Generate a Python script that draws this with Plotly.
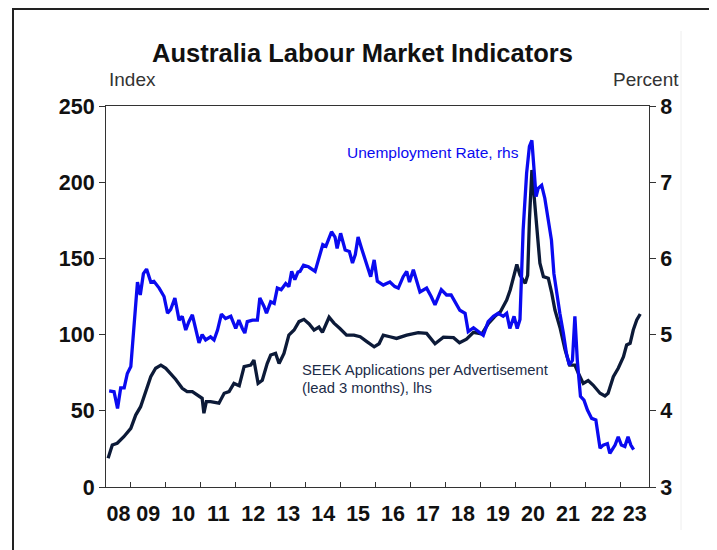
import plotly.graph_objects as go

# ---------------- data ----------------
title_text = "Australia Labour Market Indicators"
year_labels = ["08", "09", "10", "11", "12", "13", "14", "15", "16", "17", "18", "19", "20", "21", "22", "23"]
left_ticks = [0, 50, 100, 150, 200, 250]
right_ticks = [3, 4, 5, 6, 7, 8]

# SEEK applications per advertisement (lead 3 months), index, lhs
seek_x = [2008.35, 2008.47, 2008.61, 2008.8, 2009.0, 2009.14, 2009.28, 2009.43, 2009.57, 2009.71,
          2009.86, 2010.0, 2010.14, 2010.28, 2010.47, 2010.61, 2010.76, 2010.9, 2011.04, 2011.09,
          2011.16, 2011.28, 2011.52, 2011.67, 2011.81, 2011.95, 2012.1, 2012.24, 2012.43, 2012.52,
          2012.64, 2012.76, 2012.9, 2013.0, 2013.14, 2013.24, 2013.38, 2013.52, 2013.67, 2013.81,
          2013.95, 2014.1, 2014.24, 2014.38, 2014.48, 2014.67, 2014.81, 2014.98, 2015.17, 2015.38,
          2015.56, 2015.75, 2015.96, 2016.1, 2016.22, 2016.41, 2016.6, 2016.89, 2017.22, 2017.46,
          2017.7, 2017.94, 2018.23, 2018.4, 2018.6, 2018.8, 2019.04, 2019.23, 2019.4, 2019.57,
          2019.75, 2019.85, 2019.93, 2020.04, 2020.13, 2020.28, 2020.35, 2020.4, 2020.47, 2020.53,
          2020.61, 2020.7, 2020.8, 2020.94, 2021.04, 2021.13, 2021.28, 2021.42, 2021.55, 2021.7,
          2021.8, 2021.94, 2022.08, 2022.22, 2022.42, 2022.56, 2022.65, 2022.8, 2022.94, 2023.09,
          2023.18, 2023.28, 2023.37, 2023.47, 2023.57]
seek_y = [18.8, 27.6, 28.7, 33, 38.5, 47.2, 52.7, 63.6, 72.4, 77.9,
          80, 77.9, 74.6, 70.7, 64.8, 62.6, 62.6, 60.4, 58.2, 48.4,
          56, 56, 55, 61.5, 62.6, 68, 66.5, 79, 80, 83.3,
          68, 70, 81, 86.6, 87.7, 81, 87.7, 99.7, 103, 108.5,
          110, 107, 103, 105, 101.5, 111.4, 107.5, 104, 99.7, 99.7,
          98.6, 95.4, 92, 94, 99.7, 98.6, 97.5, 99.7, 101.3, 100.8,
          94, 98.3, 98, 94.7, 97, 101.5, 100.5, 107.4, 111.7, 115,
          122.7, 129.3, 135.8, 146, 139, 133.6, 139, 175, 208, 190.5,
          170.8, 146.8, 138, 137, 127, 116.1, 104.1, 90, 80, 80,
          74.6, 68, 69.8, 66.9, 61.5, 59.7, 61.5, 72.4, 77.9, 85.5,
          93.2, 94.3, 103, 109.6, 113.5]

# Unemployment rate, percent, rhs
unemp_x = [2008.38, 2008.52, 2008.62, 2008.71, 2008.81, 2008.9, 2009.0, 2009.09, 2009.19, 2009.27,
           2009.36, 2009.45, 2009.57, 2009.66, 2009.81, 2009.95, 2010.05, 2010.14, 2010.26, 2010.38,
           2010.47, 2010.57, 2010.66, 2010.76, 2010.86, 2010.95, 2011.04, 2011.14, 2011.28, 2011.38,
           2011.48, 2011.59, 2011.71, 2011.86, 2012.0, 2012.09, 2012.19, 2012.26, 2012.33, 2012.48,
           2012.62, 2012.69, 2012.81, 2012.88, 2013.0, 2013.1, 2013.19, 2013.3, 2013.43, 2013.52,
           2013.6, 2013.69, 2013.78, 2013.84, 2013.94, 2014.08, 2014.27, 2014.36, 2014.49, 2014.58,
           2014.74, 2014.84, 2014.9, 2015.0, 2015.13, 2015.25, 2015.34, 2015.42, 2015.5, 2015.6,
           2015.74, 2015.86, 2015.96, 2016.05, 2016.22, 2016.41, 2016.55, 2016.65, 2016.79, 2016.89,
           2016.97, 2017.08, 2017.27, 2017.46, 2017.59, 2017.7, 2017.88, 2018.03, 2018.16, 2018.3,
           2018.41, 2018.56, 2018.65, 2018.8, 2018.94, 2019.08, 2019.22, 2019.37, 2019.51, 2019.65,
           2019.75, 2019.84, 2019.96, 2020.05, 2020.13, 2020.22, 2020.32, 2020.4, 2020.47, 2020.53,
           2020.59, 2020.65, 2020.75, 2020.84, 2020.94, 2021.03, 2021.1, 2021.18, 2021.27, 2021.37,
           2021.46, 2021.54, 2021.63, 2021.7, 2021.77, 2021.86, 2021.96, 2022.06, 2022.18, 2022.3,
           2022.42, 2022.51, 2022.63, 2022.7, 2022.85, 2022.94, 2023.03, 2023.13, 2023.22, 2023.3,
           2023.38]
unemp_y = [4.26, 4.25, 4.03, 4.30, 4.30, 4.49, 4.58, 5.10, 5.69, 5.52,
           5.80, 5.86, 5.69, 5.70, 5.61, 5.50, 5.28, 5.33, 5.48, 5.19,
           5.24, 5.06, 5.17, 5.26, 5.06, 4.89, 5.00, 4.93, 4.97, 4.93,
           5.06, 5.27, 5.21, 5.24, 5.08, 5.19, 5.08, 5.02, 5.17, 5.19,
           5.19, 5.48, 5.37, 5.28, 5.43, 5.41, 5.61, 5.59, 5.67, 5.63,
           5.83, 5.72, 5.82, 5.83, 5.91, 5.89, 5.83, 5.98, 6.18, 6.16,
           6.35, 6.28, 6.13, 6.33, 6.11, 6.09, 5.94, 6.05, 6.28, 6.13,
           5.94, 5.76, 5.98, 5.70, 5.65, 5.69, 5.63, 5.61, 5.76, 5.83,
           5.69, 5.85, 5.56, 5.61, 5.50, 5.39, 5.59, 5.52, 5.52, 5.41,
           5.32, 5.28, 5.04, 5.09, 5.04, 4.99, 5.17, 5.24, 5.28, 5.24,
           5.28, 5.08, 5.24, 5.08, 5.20, 6.37, 7.12, 7.47, 7.55, 7.20,
           6.81, 6.92, 6.96, 6.79, 6.50, 6.24, 5.80, 5.54, 5.28, 5.02,
           4.75, 4.60, 4.66, 5.24, 4.66, 4.19, 4.14, 4.01, 3.90, 3.88,
           3.51, 3.55, 3.57, 3.44, 3.55, 3.66, 3.55, 3.53, 3.66, 3.55,
           3.49]

# ---------------- layout constants ----------------
X0, X1 = 2008.29, 2023.82
first_year = 2008
label_pos = [(max(X0, first_year + i) + min(X1, first_year + i + 1)) / 2 for i in range(len(year_labels))]
year_ticks = list(range(first_year + 1, first_year + len(year_labels)))

# target window and page offset (default body margin of the html page)
WIN_W, WIN_H = 717, 550
OFF = 8
W, H = WIN_W - OFF, WIN_H - OFF
# plot area in window pixels
L, R, T, B = 106, 649, 106, 487
PW, PH = R - L, B - T


def px(x):
    return (x - L) / PW


def py(y):
    return (B - y) / PH


TICKFONT = dict(family="Liberation Sans, Arial, sans-serif", size=21.5, color="#111111", weight="bold")
SANS = "Liberation Sans, Arial, sans-serif"
NAVY = "#0c1a38"
BLUE = "#0a0af0"
AXIS = "#333333"

fig = go.Figure()
fig.add_trace(go.Scatter(x=seek_x, y=seek_y, mode="lines", line=dict(color=NAVY, width=3.3),
                         yaxis="y", showlegend=False, hoverinfo="skip"))
fig.add_trace(go.Scatter(x=unemp_x, y=unemp_y, mode="lines", line=dict(color=BLUE, width=3.3),
                         yaxis="y2", showlegend=False, hoverinfo="skip"))

fig.update_layout(
    width=W, height=H, autosize=False,
    margin=dict(l=L - OFF, r=W - (R - OFF), t=T - OFF, b=H - (B - OFF), pad=0),
    paper_bgcolor="white", plot_bgcolor="white",
    xaxis=dict(range=[X0, X1], showgrid=False, zeroline=False,
               showline=True, linecolor=AXIS, linewidth=1, mirror=True,
               tickmode="array", tickvals=label_pos, ticktext=year_labels, ticks="",
               tickangle=0, ticklabelstandoff=7, tickfont=TICKFONT,
               minor=dict(tickmode="array", tickvals=year_ticks, ticks="inside", ticklen=5,
                          tickcolor=AXIS, tickwidth=1, showgrid=False)),
    yaxis=dict(range=[0, 250], tickvals=left_ticks, showgrid=False, zeroline=False,
               showline=True, linecolor=AXIS, linewidth=1, ticks="outside", ticklen=6,
               tickcolor=AXIS, tickfont=TICKFONT),
    yaxis2=dict(range=[3, 8], tickvals=right_ticks, overlaying="y", side="right",
                showgrid=False, zeroline=False, showline=True, linecolor=AXIS, linewidth=1,
                ticks="outside", ticklen=6, tickcolor=AXIS, tickfont=TICKFONT),
    annotations=[
        dict(text="<b>" + title_text + "</b>", xref="paper", yref="paper", x=px(362.5), y=py(53),
             xanchor="center", yanchor="middle", showarrow=False,
             font=dict(family=SANS, size=25.5, color="#111111")),
        dict(text="Index", xref="paper", yref="paper", x=px(107), y=py(80),
             xanchor="left", yanchor="middle", showarrow=False,
             font=dict(family=SANS, size=19, color="#333333")),
        dict(text="Percent", xref="paper", yref="paper", x=px(681), y=py(80),
             xanchor="right", yanchor="middle", showarrow=False,
             font=dict(family=SANS, size=19, color="#333333")),
        dict(text="Unemployment Rate, rhs", xref="paper", yref="paper", x=px(432.5), y=py(152),
             xanchor="center", yanchor="middle", showarrow=False,
             font=dict(family=SANS, size=15.5, color=BLUE)),
        dict(text="SEEK Applications per Advertisement", xref="paper", yref="paper", x=px(300), y=py(370),
             xanchor="left", yanchor="middle", showarrow=False,
             font=dict(family=SANS, size=14.8, color="#1c2c48")),
        dict(text="(lead 3 months), lhs", xref="paper", yref="paper", x=px(300), y=py(388),
             xanchor="left", yanchor="middle", showarrow=False,
             font=dict(family=SANS, size=14.8, color="#1c2c48")),
    ],
    shapes=[
        dict(type="rect", xref="paper", yref="paper", x0=px(13), x1=px(712), y0=py(565), y1=py(9),
             line=dict(color="#222222", width=2), fillcolor="rgba(0,0,0,0)", layer="below"),
        dict(type="line", xref="paper", yref="paper", x0=px(681), x1=px(681), y0=py(530), y1=py(31),
             line=dict(color="#eeeeee", width=1), layer="below"),
    ],
)

fig.write_html("out.html")
